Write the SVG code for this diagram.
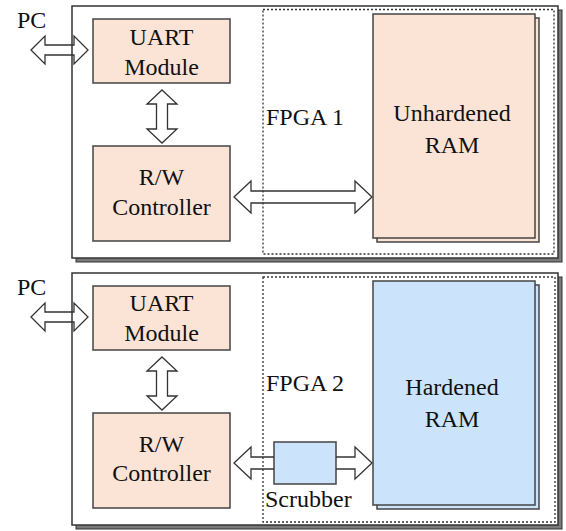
<svg xmlns="http://www.w3.org/2000/svg" width="566" height="531" viewBox="0 0 566 531">
<style>
text{font-family:"Liberation Serif","Times New Roman",Times,serif;font-size:24px;fill:#111}
.c{text-anchor:middle}
.shadow{fill:#7a7a7a;stroke:#333;stroke-width:1}
.outer{fill:#fff;stroke:#333;stroke-width:1.5}
.dot{fill:none;stroke:#333;stroke-width:1.3;stroke-dasharray:2 2}
.peach{fill:#fbe4d6;stroke:#444;stroke-width:1.5}
.blue{fill:#cce4fb;stroke:#444;stroke-width:1.5}
.arr{fill:none;stroke:#333;stroke-width:1.3;stroke-linejoin:miter}
</style>
<rect width="566" height="531" fill="#fff"/>
<g id="board1">
<rect class="shadow" x="76" y="10" width="486" height="252"/>
<rect class="outer" x="72" y="6" width="486" height="252"/>
<rect class="dot" x="263" y="9.5" width="291" height="244.5"/>
<text x="266" y="125">FPGA 1</text>
</g>
<g id="board2">
<rect class="shadow" x="76" y="277" width="486" height="252"/>
<rect class="outer" x="72" y="273" width="486" height="252"/>
<rect class="dot" x="263" y="277" width="292" height="245"/>
<text x="266" y="391">FPGA 2</text>
</g>
<g id="pc1"><text x="17" y="28">PC</text></g>
<g id="pc2"><text x="17" y="295">PC</text></g>
<g id="uart1">
<rect class="peach" x="93" y="19" width="137" height="64"/>
<text class="c" x="161.5" y="45">UART</text>
<text class="c" x="161.5" y="75">Module</text>
</g>
<g id="rw1">
<rect class="peach" x="93" y="146" width="137" height="95"/>
<text class="c" x="161.5" y="185">R/W</text>
<text class="c" x="161.5" y="215">Controller</text>
</g>
<g id="ram1">
<rect class="peach" x="377" y="18" width="162" height="224"/>
<rect class="peach" x="373" y="14" width="162" height="224"/>
<text class="c" x="452" y="121">Unhardened</text>
<text class="c" x="452" y="153">RAM</text>
</g>
<g id="uart2">
<rect class="peach" x="93" y="286" width="137" height="64"/>
<text class="c" x="161.5" y="311">UART</text>
<text class="c" x="161.5" y="341">Module</text>
</g>
<g id="rw2">
<rect class="peach" x="93" y="413" width="137" height="95"/>
<text class="c" x="161.5" y="452">R/W</text>
<text class="c" x="161.5" y="481">Controller</text>
</g>
<g id="ram2">
<rect class="blue" x="377" y="285" width="162" height="224"/>
<rect class="blue" x="373" y="281" width="162" height="224"/>
<text class="c" x="452" y="395">Hardened</text>
<text class="c" x="452" y="427">RAM</text>
</g>
<g id="scrubber">
<rect class="blue" x="274" y="442" width="62" height="42"/>
<text x="265" y="507">Scrubber</text>
</g>
<g id="connectors">
<path class="arr" d="M31,50 L45,36 L45,45 L74,45 L74,36 L88,50 L74,64 L74,55 L45,55 L45,64 Z"/>
<path class="arr" d="M162,90 L177,104 L167.5,104 L167.5,129 L177,129 L162,143 L147,129 L156.5,129 L156.5,104 L147,104 Z"/>
<path class="arr" d="M234,197 L251,181 L251,191 L355,191 L355,181 L372,197 L355,213 L355,203 L251,203 L251,213 Z"/>
<path class="arr" d="M31,317 L45,303 L45,312 L74,312 L74,303 L88,317 L74,331 L74,322 L45,322 L45,331 Z"/>
<path class="arr" d="M162,357 L177,371 L167.5,371 L167.5,396 L177,396 L162,410 L147,396 L156.5,396 L156.5,371 L147,371 Z"/>
<path class="arr" d="M274,457 L251,457 L251,447 L234,463 L251,479 L251,469 L274,469"/>
<path class="arr" d="M336,457 L355,457 L355,447 L372,463 L355,479 L355,469 L336,469"/>
</g>
</svg>
